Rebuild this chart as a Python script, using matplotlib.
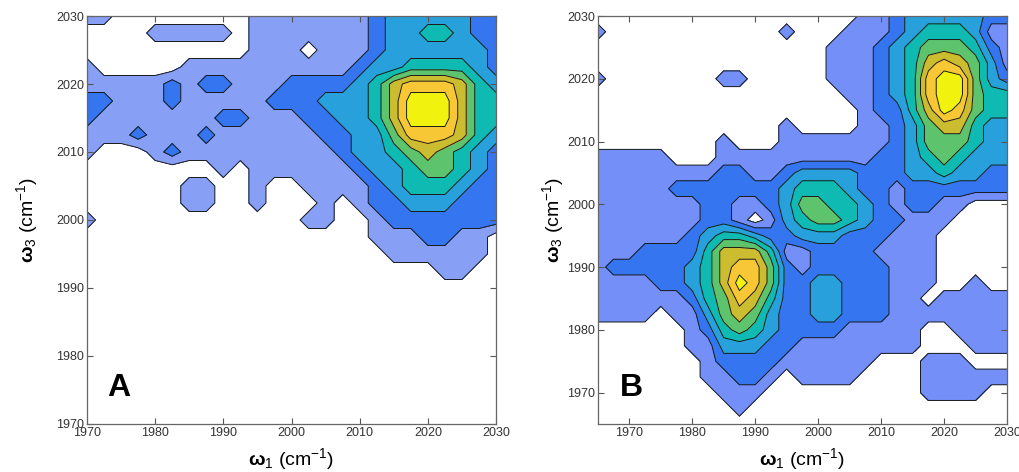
import numpy as np
import matplotlib
matplotlib.use("Agg")
import matplotlib.pyplot as plt

plt.rcParams['font.family'] = ['Liberation Sans', 'DejaVu Sans']
plt.rcParams['mathtext.fontset'] = 'custom'
plt.rcParams['mathtext.rm'] = 'Liberation Sans'
plt.rcParams['mathtext.bf'] = 'Liberation Sans:bold'
plt.rcParams['mathtext.it'] = 'Liberation Sans:italic'

# ---------------- data ----------------
# grid positions (cm-1)
omega1_A = [1970, 1972.5, 1975, 1977.5, 1980, 1982.5, 1985, 1987.5, 1990, 1992.5,
            1995, 1997.5, 2000, 2002.5, 2005, 2007.5, 2010, 2012.5, 2015, 2017.5,
            2020, 2022.5, 2025, 2027.5, 2030]
omega3_A = [2030, 2027.5, 2025, 2022.5, 2020, 2017.5, 2015, 2012.5, 2010, 2007.5,
            2005, 2002.5, 2000, 1997.5, 1995, 1992.5, 1990, 1987.5, 1985, 1982.5,
            1980, 1977.5, 1975, 1972.5, 1970]
# contour level index read at each grid point (rows: omega3 from top to bottom)
levels_A = [
    "1100000000111111123333322",
    "0000111110111111123344322",
    "0000000000111011123333332",
    "1000001111111111233444432",
    "1111121221112222346777643",
    "2211121111122233346888644",
    "2111111122111223346888644",
    "1112111211111122335777643",
    "1000121111111112334565432",
    "0000000010111111233455432",
    "0000001100100111123444322",
    "0000001100100010122333222",
    "1000000000000110012222222",
    "0000000000000000011122110",
    "0000000000000000001111110",
    "0000000000000000000001100",
    "0000000000000000000000000",
    "0000000000000000000000000",
    "0000000000000000000000000",
    "0000000000000000000000000",
    "0000000000000000000000000",
    "0000000000000000000000000",
    "0000000000000000000000000",
    "0000000000000000000000000",
    "0000000000000000000000000",
]

omega1_B = [1965, 1967.5, 1970, 1972.5, 1975, 1977.5, 1980, 1982.5, 1985, 1987.5,
            1990, 1992.5, 1995, 1997.5, 2000, 2002.5, 2005, 2007.5, 2010, 2012.5,
            2015, 2017.5, 2020, 2022.5, 2025, 2027.5, 2030]
omega3_B = [2030, 2027.5, 2025, 2022.5, 2020, 2017.5, 2015, 2012.5, 2010, 2007.5,
            2005, 2002.5, 2000, 1997.5, 1995, 1992.5, 1990, 1987.5, 1985, 1982.5,
            1980, 1977.5, 1975, 1972.5, 1970, 1967.5, 1965]
levels_B = [
    "000000000000000001123333322",
    "100000000000100011123444311",
    "000000000000000111234555421",
    "000000000000000111234676531",
    "100000001100000111234788532",
    "000000000000000011234788544",
    "000000000000000001224687544",
    "000000000000100001123566433",
    "000000001000111111123555433",
    "111110001111111111223454333",
    "111111112211233332223343322",
    "111112222222344432212222222",
    "111111122112355443212211000",
    "111111122101345543221110000",
    "111111234432233322211100000",
    "111222246664112222111100000",
    "122222346775212222211100000",
    "111122346875223322211100100",
    "111111245764223322211011111",
    "111101135653223322211111111",
    "000000124543222211111001111",
    "000000113332211111111000111",
    "000000012222111111000111000",
    "000000011221011110000111111",
    "000000001110000000000111100",
    "000000000100000000000000000",
    "000000000000000000000000000",
]

colors_A = ['#87a0f5', '#3575f0', '#27a0dc', '#0fbab2', '#5dc46d', '#cbbd2f', '#f7c735', '#f1f20d']
colors_B = ['#7490f8', '#3575f0', '#27a0dc', '#0fbab2', '#5dc46d', '#cbbd2f', '#f7c735', '#f1f20d']
contour_levels = [0.5, 1.5, 2.5, 3.5, 4.5, 5.5, 6.5, 7.5, 8.5]

ticks_x_A = [1970, 1980, 1990, 2000, 2010, 2020, 2030]
ticks_y_A = [1970, 1980, 1990, 2000, 2010, 2020, 2030]
ticks_x_B = [1970, 1980, 1990, 2000, 2010, 2020, 2030]
ticks_y_B = [1970, 1980, 1990, 2000, 2010, 2020, 2030]


def decode(rows):
    return np.array([[int(c) for c in r] for r in rows], dtype=float)


fig = plt.figure(figsize=(10.19, 4.72), dpi=100)
axA = fig.add_axes([0.0854, 0.1017, 0.4014, 0.8644])
axB = fig.add_axes([0.5866, 0.1017, 0.4017, 0.8644])

panels = [
    (axA, omega1_A, omega3_A, levels_A, colors_A, (1970, 2030), (1970, 2030),
     ticks_x_A, ticks_y_A, 'A', 12, 0.049),
    (axB, omega1_B, omega3_B, levels_B, colors_B, (1965, 2030), (1965, 2030),
     ticks_x_B, ticks_y_B, 'B', 1, 0.054),
]

for ax, x, y, rows, cols, xl, yl, tx, ty, letter, ypad, lx in panels:
    Z = decode(rows)
    X, Y = np.meshgrid(x, y)
    ax.contourf(X, Y, Z, levels=contour_levels, colors=cols)
    ax.contour(X, Y, Z, levels=contour_levels[:-1], colors='#1a1a1a', linewidths=0.7)
    ax.set_xlim(*xl)
    ax.set_ylim(*yl)
    ax.set_xticks(tx)
    ax.set_yticks(ty)
    ax.tick_params(direction='in', top=True, right=True, length=4, width=0.8,
                   color='#555555', labelsize=9, labelcolor='#333333', pad=2)
    for s in ax.spines.values():
        s.set_color('#666666')
        s.set_linewidth(0.9)
    ax.set_xlabel(r'$\mathbf{ω}_{1}$ (cm$^{-1}$)', fontsize=14, labelpad=5)
    ax.set_ylabel(r'$\mathbf{ω}_{3}$ (cm$^{-1}$)', fontsize=14, labelpad=ypad)
    ax.text(lx, 0.088, letter, transform=ax.transAxes, fontsize=23,
            fontweight='bold', color='black', ha='left', va='center')

fig.savefig('out.png', dpi=100)
